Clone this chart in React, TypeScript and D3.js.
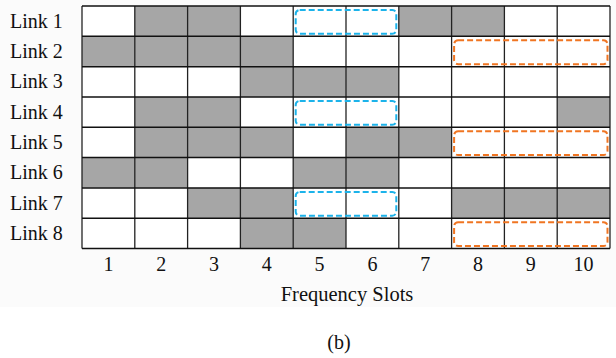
import React from "react";
import * as d3 from "d3";

const links = ["Link 1", "Link 2", "Link 3", "Link 4", "Link 5", "Link 6", "Link 7", "Link 8"];
const slots = [1, 2, 3, 4, 5, 6, 7, 8, 9, 10];
// occupied slots per link
const occupied: number[][] = [
  [2, 3, 7, 8],
  [1, 2, 3, 4],
  [4, 5, 6],
  [2, 3, 10],
  [2, 3, 4, 6, 7],
  [1, 2, 5, 6],
  [3, 4, 8, 9, 10],
  [4, 5],
];
// highlighted free blocks: [link index, first slot, last slot]
const blueBlocks: [number, number, number][] = [
  [0, 5, 6],
  [3, 5, 6],
  [6, 5, 6],
];
const orangeBlocks: [number, number, number][] = [
  [1, 8, 10],
  [4, 8, 10],
  [7, 8, 10],
];

const W = 616;
const H = 358;
const left = 82;
const right = 610;
const top = 6;
const bottom = 248.5;

export default function App() {
  const x = d3.scaleBand<number>().domain(slots).range([left, right]).padding(0);
  const y = d3.scaleBand<string>().domain(links).range([top, bottom]).padding(0);
  const bw = x.bandwidth();
  const bh = y.bandwidth();
  const ts = { fontFamily: '"Liberation Serif"' };

  const cells: { key: string; x: number; y: number; fill: string }[] = [];
  links.forEach((l, i) => {
    slots.forEach((s) => {
      cells.push({
        key: `${i}-${s}`,
        x: x(s)!,
        y: y(l)!,
        fill: occupied[i].includes(s) ? "#a6a6a6" : "#ffffff",
      });
    });
  });

  const blockRect = (b: [number, number, number]) => {
    const x0 = x(b[1])! + 2.5;
    const x1 = x(b[2])! + bw - 2.5;
    const y0 = y(links[b[0]])! + 4;
    const y1 = y(links[b[0]])! + bh - 2.5;
    return { x: x0, y: y0, w: x1 - x0, h: y1 - y0 };
  };

  return (
    <svg width={W} height={H} style={{ position: "absolute", left: 0, top: 0 }}>
      <rect x={0} y={0} width={W} height={H} fill="#ffffff" />
      <rect x={0} y={0} width={W} height={307} fill="#fbfbfb" />
      {cells.map((c) => (
        <rect key={c.key} x={c.x} y={c.y} width={bw} height={bh} fill={c.fill} />
      ))}
      {slots.map((s) => (
        <line key={"v" + s} x1={x(s)!} x2={x(s)!} y1={top} y2={bottom} stroke="#222" strokeWidth={1.3} />
      ))}
      <line x1={right} x2={right} y1={top} y2={bottom} stroke="#222" strokeWidth={1.3} />
      {links.map((l) => (
        <line key={"h" + l} x1={left} x2={right} y1={y(l)!} y2={y(l)!} stroke="#111" strokeWidth={1.5} />
      ))}
      <line x1={left} x2={right} y1={bottom} y2={bottom} stroke="#111" strokeWidth={1.5} />
      {blueBlocks.map((b, i) => {
        const r = blockRect(b);
        return (
          <rect key={"b" + i} x={r.x} y={r.y} width={r.w} height={r.h} rx={4} ry={4}
            fill="none" stroke="#1cb3ea" strokeWidth={2} strokeDasharray="6 3" />
        );
      })}
      {orangeBlocks.map((b, i) => {
        const r = blockRect(b);
        return (
          <rect key={"o" + i} x={r.x} y={r.y} width={r.w} height={r.h} rx={4} ry={4}
            fill="none" stroke="#f07522" strokeWidth={2} strokeDasharray="6 3" />
        );
      })}
      {links.map((l) => (
        <text key={"t" + l} x={10} y={y(l)! + bh / 2 + 6.5} style={ts} fontSize={20} fill="#111">
          {l}
        </text>
      ))}
      {slots.map((s) => (
        <text key={"s" + s} x={x(s)! + bw / 2} y={270.5} textAnchor="middle" style={ts} fontSize={20} fill="#111">
          {s}
        </text>
      ))}
      <text x={347} y={301} textAnchor="middle" style={ts} fontSize={20.5} fill="#111">
        Frequency Slots
      </text>
      <text x={339} y={349} textAnchor="middle" style={ts} fontSize={20} fill="#111">
        (b)
      </text>
    </svg>
  );
}
